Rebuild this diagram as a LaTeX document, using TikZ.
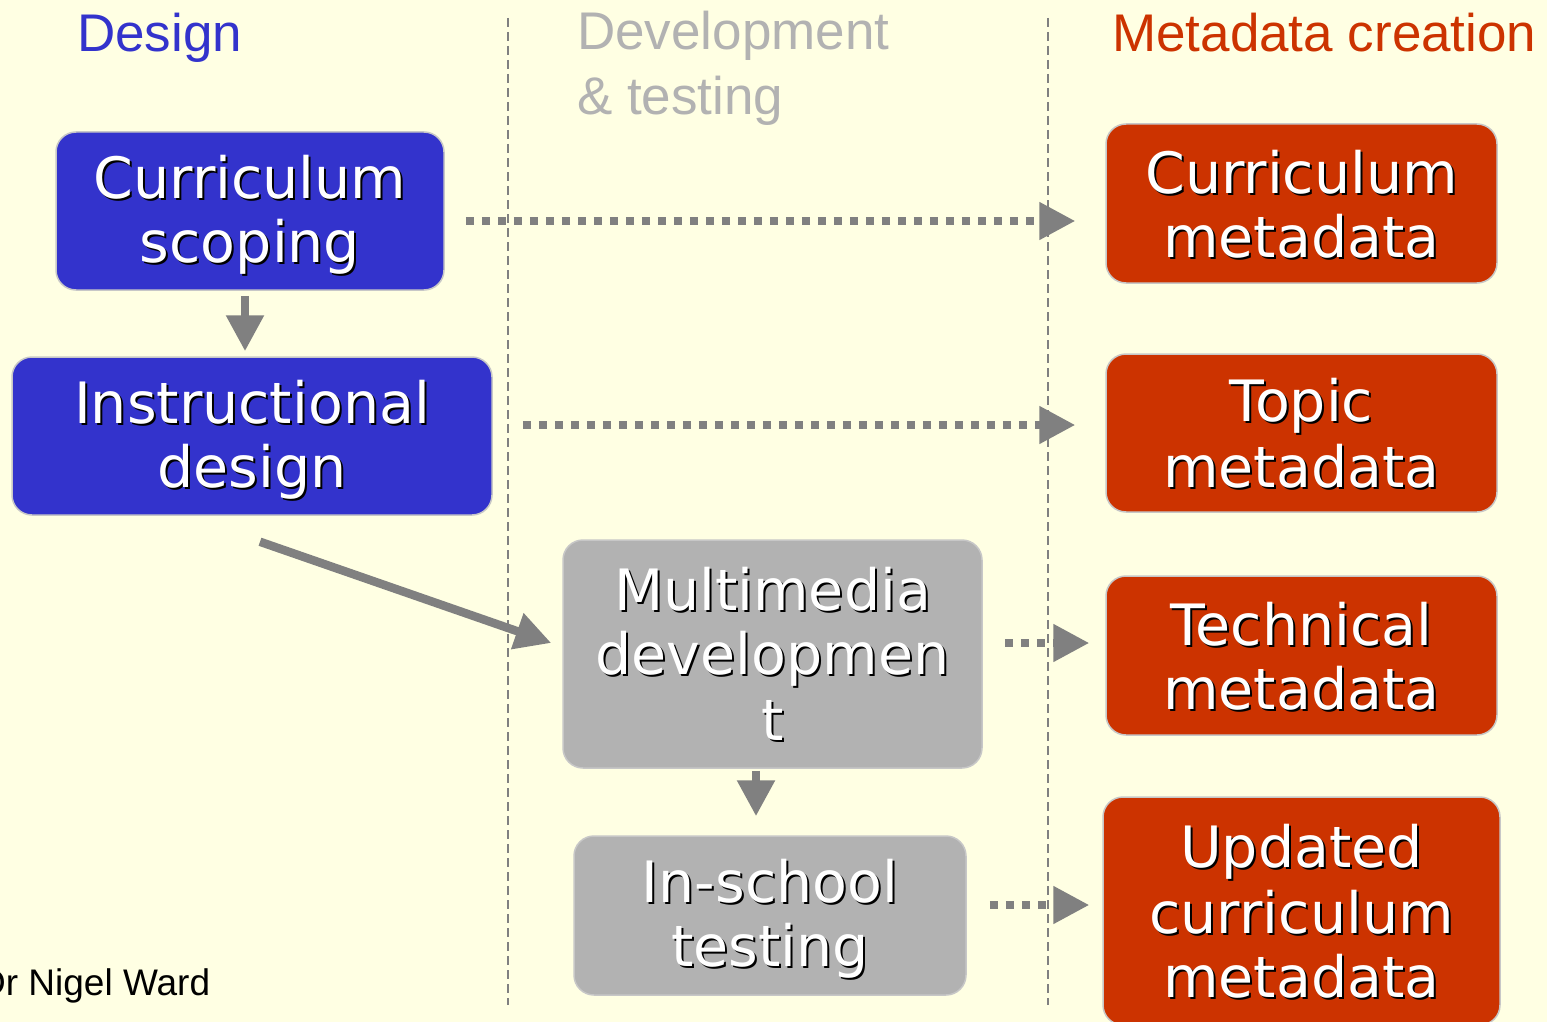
\documentclass[tikz,border=0pt]{standalone}
\usepackage{fontspec}
\usetikzlibrary{arrows.meta}
\newfontfamily\boxfont{DejaVu Sans}
\newfontfamily\headfont{Liberation Sans}
\definecolor{bgc}{HTML}{FFFFE3}
\definecolor{bluec}{HTML}{3333CC}
\definecolor{redc}{HTML}{CC3300}
\definecolor{grayc}{HTML}{B2B2B2}
\definecolor{arrc}{HTML}{808080}
\newcommand{\shd}[1]{\rule[-9pt]{0pt}{61pt}\rlap{\kern2pt\raisebox{-2pt}{\color{black}#1}}#1}
\tikzset{
  procbox/.style={rounded corners=20pt, draw=black!22, line width=1.5pt, inner sep=0pt,
    align=center, text=white, font=\boxfont\fontsize{57}{64}\selectfont},
  headtxt/.style={inner sep=0pt, anchor=base west, align=left, font=\headfont\fontsize{53}{65}\selectfont},
  divider/.style={draw=arrc, line width=2pt, dash pattern=on 9pt off 5pt},
  solidarr/.style={draw=arrc, line width=8.5pt, -{Triangle[length=36pt,width=36pt]}, arrc},
  dotarr/.style={draw=arrc, line width=8pt, dash pattern=on 8pt off 8pt, -{Triangle[length=36pt,width=36pt]}, arrc}
}
\begin{document}
\begin{tikzpicture}[x=1pt,y=-1pt]
\fill[bgc] (0,0) rectangle (1547,1022);
\useasboundingbox (0,0) rectangle (1547,1022);
% dividers
\coordinate (d1t) at (508,18); \coordinate (d1b) at (508,1005);
\coordinate (d2t) at (1048,18); \coordinate (d2b) at (1048,1005);
\draw[divider] (d1t) -- (d1b);
\draw[divider] (d2t) -- (d2b);
% headers
\node[headtxt, text=bluec] (hdesign) at (77,52) {Design};
\node[headtxt, text=grayc] (hdev) at (577,115) {Development\\\& testing};
\node[headtxt, text=redc] (hmeta) at (1112,52) {Metadata creation};
\node[inner sep=0pt, anchor=base west, font=\headfont\fontsize{37}{44}\selectfont] (author) at (-21,995) {Dr Nigel Ward};
% boxes
\node[procbox, fill=bluec, minimum width=388pt, minimum height=158pt] (cs) at (250,211) {\shd{Curriculum}\\\shd{scoping}};
\node[procbox, fill=bluec, minimum width=480pt, minimum height=158pt] (id) at (252,436) {\shd{Instructional}\\\shd{design}};
\node[procbox, fill=grayc, minimum width=419pt, minimum height=228pt] (md) at (772.5,654) {\shd{Multimedia}\\\shd{developmen}\\\shd{t}};
\node[procbox, fill=grayc, minimum width=392pt, minimum height=159pt] (it) at (770,915.5) {\shd{In-school}\\\shd{testing}};
\node[procbox, fill=redc, minimum width=391pt, minimum height=159pt] (cm) at (1301.5,203.5) {\shd{Curriculum}\\\shd{metadata}};
\node[procbox, fill=redc, minimum width=391pt, minimum height=158pt] (tm) at (1301.5,433) {\shd{Topic}\\\shd{metadata}};
\node[procbox, fill=redc, minimum width=391pt, minimum height=159pt] (tech) at (1301.5,655.5) {\shd{Technical}\\\shd{metadata}};
\node[procbox, fill=redc, minimum width=397pt, minimum height=228pt] (ucm) at (1301.5,911) {\shd{Updated}\\\shd{curriculum}\\\shd{metadata}};
% solid arrows
\draw[solidarr] ([xshift=-5pt,yshift=-5pt]cs.south) -- ([xshift=-7pt,yshift=5pt]id.north);
\draw[solidarr] ([xshift=8pt,yshift=-26pt]id.south) -- ([xshift=-11pt,yshift=11pt]md.west);
\draw[solidarr] ([xshift=-16.5pt,yshift=-2pt]md.south) -- ([xshift=-14pt,yshift=19pt]it.north);
% dotted arrows
\draw[dotarr] ([xshift=21pt,yshift=-10pt]cs.east) -- ([xshift=-30pt,yshift=-17.5pt]cm.west);
\draw[dotarr] ([xshift=30pt,yshift=11pt]id.east) -- ([xshift=-30pt,yshift=8pt]tm.west);
\draw[dotarr] ([xshift=22pt,yshift=11pt]md.east) -- ([xshift=-16pt,yshift=12.5pt]tech.west);
\draw[dotarr] ([xshift=23pt,yshift=10.5pt]it.east) -- ([xshift=-13pt,yshift=6pt]ucm.west);
\end{tikzpicture}
\end{document}
